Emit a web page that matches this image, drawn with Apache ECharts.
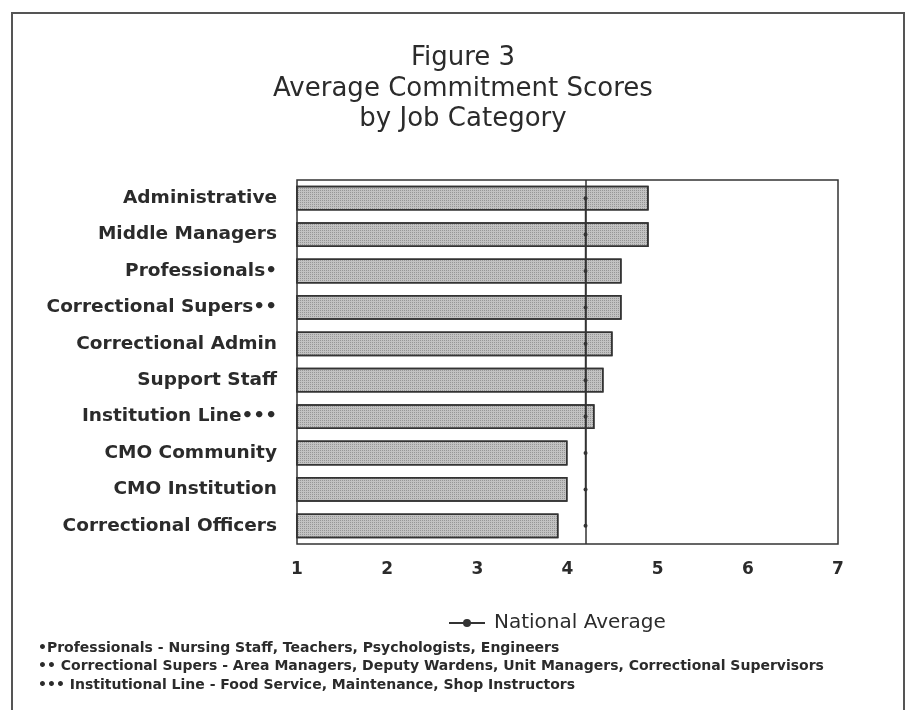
<!DOCTYPE html>
<html>
<head>
<meta charset="utf-8">
<script src="https://cdn.jsdelivr.net/npm/echarts@6/dist/echarts.min.js"></script>
<style>
html,body{margin:0;padding:0;background:#fff;}
#chart{width:911px;height:710px;}
</style>
</head>
<body>
<div id="chart"></div>
<script>
const titleLines = ['Figure 3', 'Average Commitment Scores', 'by Job Category'];
const categories = ['Administrative', 'Middle Managers', 'Professionals\u2022', 'Correctional Supers\u2022\u2022', 'Correctional Admin', 'Support Staff', 'Institution Line\u2022\u2022\u2022', 'CMO Community', 'CMO Institution', 'Correctional Officers'];
const scores = [4.9, 4.9, 4.6, 4.6, 4.5, 4.4, 4.3, 4.0, 4.0, 3.9];
const nationalAverage = [4.2, 4.2, 4.2, 4.2, 4.2, 4.2, 4.2, 4.2, 4.2, 4.2];
const xTicks = [1, 2, 3, 4, 5, 6, 7];
const footnotes = [
  '\u2022Professionals - Nursing Staff, Teachers, Psychologists, Engineers',
  '\u2022\u2022 Correctional Supers - Area Managers, Deputy Wardens, Unit Managers, Correctional Supervisors',
  '\u2022\u2022\u2022 Institutional Line - Food Service, Maintenance, Shop Instructors'
];

const ink = '#2b2b2b';
const chart = echarts.init(document.getElementById('chart'));
chart.setOption({
  backgroundColor: '#ffffff',
  animation: false,
  title: {
    text: titleLines.join('\n'),
    left: 458,
    textAlign: 'center',
    top: 38,
    textStyle: { fontFamily: 'DejaVu Sans', fontSize: 26, fontWeight: 'normal', color: ink, lineHeight: 30.5 }
  },
  legend: {
    data: ['National Average'],
    left: 443,
    top: 608,
    itemWidth: 36,
    itemHeight: 10,
    textStyle: { fontFamily: 'DejaVu Sans', fontSize: 20, color: ink, padding: [0, 0, 0, 4] }
  },
  grid: { left: 297, right: 73, top: 180, bottom: 166, show: true, borderColor: '#333', borderWidth: 1.5, backgroundColor: 'transparent' },
  xAxis: {
    type: 'value',
    min: xTicks[0],
    max: xTicks[xTicks.length - 1],
    interval: 1,
    axisLine: { show: false },
    axisTick: { show: false },
    splitLine: { show: false },
    axisLabel: { margin: 17, fontFamily: 'DejaVu Sans', fontWeight: 'bold', fontSize: 17, color: ink }
  },
  yAxis: {
    type: 'category',
    inverse: true,
    data: categories,
    axisLine: { show: false },
    axisTick: { show: false },
    axisLabel: { margin: 20, fontFamily: 'DejaVu Sans', fontWeight: 'bold', fontSize: 18.5, color: ink }
  },
  series: [
    {
      type: 'bar',
      name: 'Score',
      data: scores,
      barCategoryGap: '32%',
      itemStyle: {
        color: '#c2c2c2',
        borderColor: '#333',
        borderWidth: 1.5,
        decal: { symbol: 'rect', symbolSize: 1, dashArrayX: [1, 1], dashArrayY: [1, 1], color: 'rgba(70,70,70,0.35)', rotation: 0 }
      },
      z: 2
    },
    {
      type: 'line',
      name: 'National Average',
      data: nationalAverage,
      symbol: 'circle',
      symbolSize: 4,
      showSymbol: true,
      lineStyle: { color: '#333', width: 1.5 },
      itemStyle: { color: '#333' },
      z: 5,
      markLine: {
        silent: true,
        symbol: 'none',
        label: { show: false },
        lineStyle: { color: '#333', width: 1.5, type: 'solid' },
        data: [{ xAxis: nationalAverage[0] }]
      }
    }
  ],
  graphic: [
    { type: 'rect', shape: { x: 12, y: 13, width: 892, height: 720 }, style: { fill: null, stroke: '#555', lineWidth: 2 }, silent: true },
    { type: 'text', left: 38, top: 641, style: { text: footnotes[0], fontFamily: 'DejaVu Sans', fontWeight: 'bold', fontSize: 14, fill: ink } },
    { type: 'text', left: 38, top: 659, style: { text: footnotes[1], fontFamily: 'DejaVu Sans', fontWeight: 'bold', fontSize: 14, fill: ink } },
    { type: 'text', left: 38, top: 678, style: { text: footnotes[2], fontFamily: 'DejaVu Sans', fontWeight: 'bold', fontSize: 14, fill: ink } }
  ]
});
</script>
</body>
</html>
